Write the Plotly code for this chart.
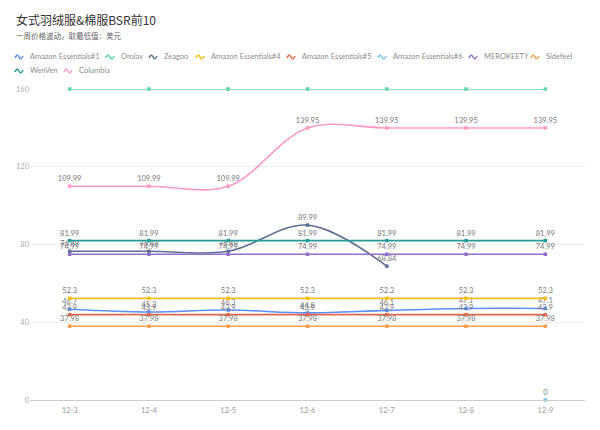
import plotly.graph_objects as go

dates = ["12-3", "12-4", "12-5", "12-6", "12-7", "12-8", "12-9"]

ae1 = [46.7, 45.3, 46.3, 44.8, 46.1, 47.1, 47.1]
orolay = [159.99, 159.99, 159.99, 159.99, 159.99, 159.99, 159.99]
zeagoo = [76.49, 76.49, 76.49, 89.99, 68.84, None, None]
ae4 = [52.3, 52.3, 52.3, 52.3, 52.3, 52.3, 52.3]
ae5 = [43.9, 43.9, 43.9, 43.9, 43.9, 43.9, 43.9]
ae6 = [None, None, None, None, None, None, 0]
merokeety = [74.99, 74.99, 74.99, 74.99, 74.99, 74.99, 74.99]
sidefeel = [37.98, 37.98, 37.98, 37.98, 37.98, 37.98, 37.98]
wenven = [81.99, 81.99, 81.99, 81.99, 81.99, 81.99, 81.99]
columbia = [109.99, 109.99, 109.99, 139.95, 139.95, 139.95, 139.95]

series = [
    ("Amazon Essentials#1", ae1, "#5B8FF9", True),
    ("Orolay", orolay, "#5AD8A6", False),
    ("Zeagoo", zeagoo, "#5D7092", True),
    ("Amazon Essentials#4", ae4, "#F6BD16", True),
    ("Amazon Essentials#5", ae5, "#E8684A", True),
    ("Amazon Essentials#6", ae6, "#6DC8EC", True),
    ("MEROKEETY", merokeety, "#9270CA", True),
    ("Sidefeel", sidefeel, "#FF9D4D", True),
    ("WenVen", wenven, "#269A99", True),
    ("Columbia", columbia, "#FF99C3", True),
]

# page has an 8px body margin; work in screen pixels and convert
OFF = 8
W, H = 600 - OFF, 430 - OFF
ML, MR, MT, MB = 30 - OFF, 15, 89 - OFF, 30
PW, PH = W - ML - MR, H - MT - MB

def px(x):
    return (x - OFF - ML) / PW

def py(y):
    return (H - MB - (y - OFF)) / PH

cjk = "Noto Sans CJK SC, Noto Sans, sans-serif"
latin = "Lato, Noto Sans, sans-serif"

# legend layout (icon left x in screen px, row center y in screen px)
legend_slots = [(15, 57), (106, 57), (149, 57), (196, 57), (287, 57),
                (378, 57), (469, 57), (531, 57), (15, 71), (64, 71)]

fig = go.Figure()
shapes = []
annotations = [
    dict(text="女式羽绒服&棉服BSR前10", xref="paper", yref="paper",
         x=px(14), y=py(19), xanchor="left", yanchor="middle", showarrow=False,
         font=dict(size=12, color="#333", family=cjk)),
    dict(text="一周价格波动，取最低值：美元", xref="paper", yref="paper",
         x=px(14), y=py(36), xanchor="left", yanchor="middle", showarrow=False,
         font=dict(size=7.5, color="#666", family=cjk)),
]

for (name, vals, color, show_text), (lx, ly) in zip(series, legend_slots):
    fig.add_trace(go.Scatter(
        x=dates, y=vals, name=name,
        mode="lines+markers+text" if show_text else "lines+markers",
        text=[("" if v is None else f"{v:g}") for v in vals] if show_text else None,
        textposition="top center",
        textfont=dict(size=7.5, color="#777", family=latin),
        line=dict(color=color, width=1.6, shape="spline", smoothing=1),
        marker=dict(color=color, size=3.5, symbol="square"),
        cliponaxis=False, showlegend=False,
    ))
    # wavy legend icon
    p = (f"M {px(lx)},{py(ly + 1)} "
         f"Q {px(lx + 2)},{py(ly - 4)} {px(lx + 4)},{py(ly)} "
         f"Q {px(lx + 6)},{py(ly + 4)} {px(lx + 8)},{py(ly - 1)}")
    shapes.append(dict(type="path", path=p, xref="paper", yref="paper",
                       line=dict(color=color, width=1.5)))
    annotations.append(dict(text=name, xref="paper", yref="paper",
                            x=px(lx + 13), y=py(ly), xanchor="left", yanchor="middle",
                            showarrow=False,
                            font=dict(size=7.5, color="#8c8c8c", family=latin)))

fig.update_layout(
    width=W, height=H,
    margin=dict(l=ML, r=MR, t=MT, b=MB),
    paper_bgcolor="white", plot_bgcolor="white",
    font=dict(family=latin, color="#999"),
    showlegend=False,
    shapes=shapes,
    annotations=annotations,
)
fig.update_xaxes(
    type="category", range=[-0.5, 6.5], showgrid=False,
    showline=True, linecolor="#ccc", linewidth=1,
    ticks="", tickfont=dict(size=7.5, color="#999"), automargin=False,
    ticklabelstandoff=3,
)
fig.update_yaxes(
    range=[0, 160], tickvals=[0, 40, 80, 120, 160],
    showgrid=True, gridcolor="#eee", gridwidth=1,
    zeroline=False, showline=False, ticks="",
    tickfont=dict(size=7.5, color="#aaa"), automargin=False,
)

fig.write_html("out.html")
